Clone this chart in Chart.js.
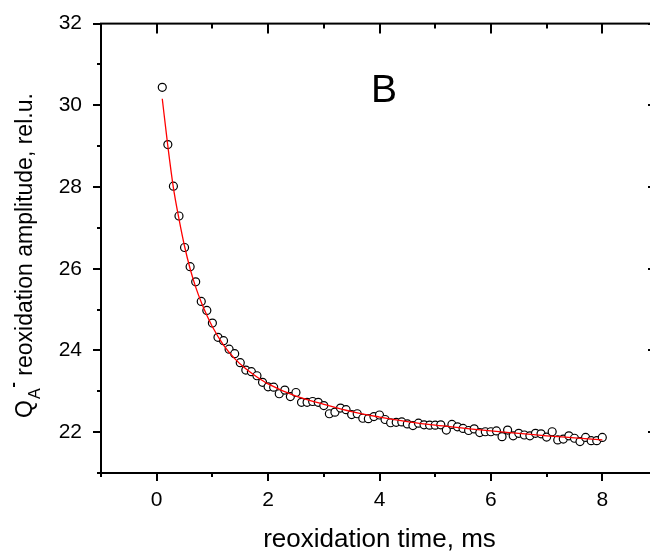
<!DOCTYPE html>
<html><head><meta charset="utf-8">
<script src="https://cdn.jsdelivr.net/npm/chart.js@4/dist/chart.umd.min.js"></script>
<style>html,body{margin:0;padding:0;overflow:hidden;background:#fff;width:650px;height:552px}
canvas{display:block}</style></head>
<body><canvas id="c" width="670" height="552" style="width:670px;height:552px"></canvas>
<script>
const timeMs = [0.1,0.2,0.3,0.4,0.5,0.6,0.7,0.8,0.9,1.0,1.1,1.2,1.3,1.4,1.5,1.6,1.7,1.8,1.9,2.0,
  2.1,2.2,2.3,2.4,2.5,2.6,2.7,2.8,2.9,3.0,3.1,3.2,3.3,3.4,3.5,3.6,3.7,3.8,3.9,4.0,
  4.1,4.2,4.3,4.4,4.5,4.6,4.7,4.8,4.9,5.0,5.1,5.2,5.3,5.4,5.5,5.6,5.7,5.8,5.9,6.0,
  6.1,6.2,6.3,6.4,6.5,6.6,6.7,6.8,6.9,7.0,7.1,7.2,7.3,7.4,7.5,7.6,7.7,7.8,7.9,8.0];
const amplitude = [30.44,29.04,28.02,27.29,26.52,26.05,25.68,25.20,24.98,24.67,24.32,24.24,24.03,23.92,23.70,23.52,23.48,23.38,23.22,23.11,
  23.10,22.94,23.03,22.87,22.97,22.73,22.73,22.75,22.73,22.65,22.45,22.49,22.59,22.55,22.43,22.45,22.34,22.33,22.38,22.42,
  22.31,22.23,22.24,22.25,22.20,22.16,22.22,22.18,22.17,22.17,22.18,22.05,22.19,22.13,22.09,22.04,22.08,21.99,22.01,22.01,
  22.03,21.89,22.05,21.91,21.97,21.93,21.91,21.97,21.96,21.88,22.01,21.81,21.83,21.91,21.85,21.77,21.87,21.79,21.79,21.87];
const fitTime = [0.1,0.2,0.3,0.4,0.5,0.6,0.7,0.8,0.9,1.0,1.2,1.4,1.6,1.8,2.0,2.5,3.0,3.5,4.0,4.5,5.0,5.5,6.0,6.5,7.0,7.5,8.0];
const fitAmp = [30.16,29.00,27.98,27.22,26.55,26.00,25.55,25.18,24.86,24.58,24.13,23.80,23.55,23.35,23.18,22.88,22.68,22.50,22.37,22.26,22.17,22.10,22.03,21.97,21.91,21.86,21.81];
const xMajorTicks = [0,2,4,6,8];
const xMinorTicks = [-1,1,3,5,7,9];
const yMajorTicks = [22,24,26,28,30,32];
const yMinorTicks = [21,23,25,27,29,31];
const xTitle = 'reoxidation time, ms';
const yTitleMain = 'Q', yTitleSub = 'A', yTitleSup = '-', yTitleRest = ' reoxidation amplitude, rel.u.';
const panelLabel = 'B';

const FONT = '"Liberation Sans", Arial, sans-serif';

const decor = {
  id: 'decor',
  afterDraw(chart) {
    const {ctx, chartArea: a, scales: {x, y}} = chart;
    ctx.save();
    ctx.strokeStyle = '#000';
    ctx.lineWidth = 2;
    ctx.strokeRect(a.left, a.top, a.right - a.left, a.bottom - a.top);
    ctx.beginPath();
    const seg = (x1, y1, x2, y2) => { ctx.moveTo(x1, y1); ctx.lineTo(x2, y2); };
    xMajorTicks.forEach(v => { const p = Math.round(x.getPixelForValue(v)); seg(p, a.bottom, p, a.bottom + 8); seg(p, a.top, p, a.top + 10); });
    xMinorTicks.forEach(v => { const p = Math.round(x.getPixelForValue(v)); seg(p, a.bottom, p, a.bottom + 4); seg(p, a.top, p, a.top + 5); });
    yMajorTicks.forEach(v => { const p = Math.round(y.getPixelForValue(v)); seg(a.left - 8, p, a.left, p); seg(a.right - 10, p, a.right, p); });
    yMinorTicks.forEach(v => { const p = Math.round(y.getPixelForValue(v)); seg(a.left - 4, p, a.left, p); seg(a.right - 5, p, a.right, p); });
    ctx.stroke();

    ctx.fillStyle = '#000';
    // x title
    ctx.font = '26px ' + FONT;
    ctx.textAlign = 'center';
    ctx.textBaseline = 'alphabetic';
    ctx.fillText(xTitle, (a.left + a.right) / 2, 547);

    // panel label
    ctx.font = '39px ' + FONT;
    ctx.textAlign = 'left';
    ctx.fillText(panelLabel, 371, 102);

    // y title (rotated)
    ctx.translate(32, 418);
    ctx.rotate(-Math.PI / 2);
    ctx.textAlign = 'left';
    ctx.font = '23px ' + FONT;
    ctx.fillText(yTitleMain, 0, 0);
    let pos = ctx.measureText(yTitleMain).width + 1;
    ctx.font = '16px ' + FONT;
    ctx.fillText(yTitleSub, pos, 8);
    pos += ctx.measureText(yTitleSub).width + 1;
    ctx.font = 'bold 16px ' + FONT;
    ctx.fillText(yTitleSup, pos, -14);
    pos += ctx.measureText(yTitleSup).width;
    ctx.font = '23px ' + FONT;
    ctx.fillText(yTitleRest, pos, 0);
    ctx.restore();
  }
};

new Chart(document.getElementById('c'), {
  type: 'scatter',
  data: {
    datasets: [
      {
        type: 'line',
        data: fitTime.map((t, i) => ({x: t, y: fitAmp[i]})),
        borderColor: '#ff0000',
        borderWidth: 1.3,
        pointRadius: 0,
        cubicInterpolationMode: 'monotone',
        fill: false,
        order: 0
      },
      {
        data: timeMs.map((t, i) => ({x: t, y: amplitude[i]})),
        pointStyle: 'circle',
        pointRadius: 4,
        pointBorderWidth: 1.2,
        pointBorderColor: '#000000',
        pointBackgroundColor: '#ffffff',
        order: 1
      }
    ]
  },
  options: {
    responsive: false,
    animation: false,
    devicePixelRatio: 1,
    layout: {padding: {left: 0, top: 22, right: 12, bottom: 0}},
    plugins: {legend: {display: false}, tooltip: {enabled: false}},
    scales: {
      x: {
        type: 'linear', min: -1, max: 9,
        grid: {display: false},
        border: {display: false},
        afterFit: s => { s.height = 79; },
        ticks: {
          stepSize: 1, autoSkip: false, maxRotation: 0, padding: 7,
          color: '#000', font: {family: FONT, size: 21},
          callback: v => xMajorTicks.includes(v) ? String(v) : ''
        }
      },
      y: {
        type: 'linear', min: 21, max: 32,
        grid: {display: false},
        border: {display: false},
        afterFit: s => { s.width = 101; },
        ticks: {
          stepSize: 1, autoSkip: false, padding: 11,
          color: '#000', font: {family: FONT, size: 21},
          callback: v => yMajorTicks.includes(v) ? String(v) : ''
        }
      }
    }
  },
  plugins: [decor]
});
</script>
</body></html>
